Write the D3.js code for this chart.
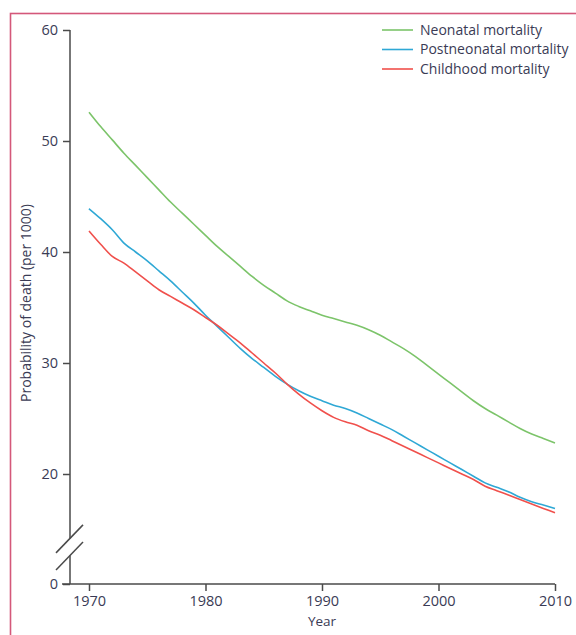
<!DOCTYPE html>
<html>
<head>
<meta charset="utf-8">
<script src="https://cdn.jsdelivr.net/npm/d3@7"></script>
<style>
  html, body { margin: 0; padding: 0; background: #fff; }
  svg { display: block; }
  .tick text { font-family: "Open Sans", sans-serif; font-size: 14.5px; fill: #3a3b55; }
  .lbl { font-family: "Open Sans", sans-serif; fill: #3a3b55; }
</style>
</head>
<body>
<svg id="chart" width="576" height="635"></svg>
<script>
// Probability of death (per 1000) by year, three age bands
const years = d3.range(1970, 2011);
const neonatal = [
  52.6, 51.3, 50.1, 48.9, 47.8, 46.7, 45.6, 44.5, 43.5, 42.5,
  41.5, 40.5, 39.6, 38.7, 37.8, 37.0, 36.3, 35.6, 35.1, 34.7,
  34.3, 34.0, 33.7, 33.4, 33.0, 32.5, 31.9, 31.3, 30.6, 29.8,
  29.0, 28.2, 27.4, 26.6, 25.9, 25.3, 24.7, 24.1, 23.6, 23.2,
  22.8
];
const postneonatal = [
  43.9, 43.0, 42.0, 40.8, 40.0, 39.2, 38.3, 37.4, 36.4, 35.4,
  34.3, 33.3, 32.3, 31.3, 30.4, 29.6, 28.8, 28.1, 27.5, 27.0,
  26.6, 26.2, 25.9, 25.5, 25.0, 24.5, 24.0, 23.4, 22.8, 22.2,
  21.6, 21.0, 20.4, 19.8, 19.2, 18.8, 18.4, 17.9, 17.5, 17.2,
  16.9
];
const childhood = [
  41.9, 40.7, 39.6, 39.0, 38.2, 37.4, 36.6, 36.0, 35.4, 34.8,
  34.1, 33.4, 32.6, 31.8, 30.9, 30.0, 29.1, 28.1, 27.2, 26.4,
  25.7, 25.1, 24.7, 24.4, 23.9, 23.5, 23.0, 22.5, 22.0, 21.5,
  21.0, 20.5, 20.0, 19.5, 18.9, 18.5, 18.1, 17.7, 17.3, 16.9,
  16.5
];
const seriesNames = ["Neonatal mortality", "Postneonatal mortality", "Childhood mortality"];
const seriesValues = [neonatal, postneonatal, childhood];
const seriesColors = ["#7cc46a", "#2fa8d5", "#f0504c"];
const xTicks = [1970, 1980, 1990, 2000, 2010];
const yTicks = [0, 20, 30, 40, 50, 60];

const svg = d3.select("#chart");

// outer frame
svg.append("rect")
  .attr("x", 10.5).attr("y", 13.5)
  .attr("width", 700).attr("height", 700)
  .attr("fill", "none").attr("stroke", "#d4587a").attr("stroke-width", 1.6);

// scales: the y axis runs linearly above the break and squeezes 0–13 below it
const x = d3.scaleLinear().domain([1970, 2010]).range([89, 555]);
const yMain = d3.scaleLinear().domain([20, 60]).range([474, 30]);
const yKnot = 13;
const y = d3.scaleLinear().domain([0, yKnot, 60]).range([584, yMain(yKnot), 30]);
const axisX = 70;
const axisColor = "#4a4a4a";

// y axis
const gy = svg.append("g").attr("transform", `translate(${axisX},0)`)
  .call(d3.axisLeft(y).tickValues(yTicks).tickSize(7).tickPadding(5).tickSizeOuter(0));
gy.select(".domain").remove();
gy.selectAll(".tick line").attr("stroke", axisColor).attr("stroke-width", 1.5);

const breakTop = 14.2, breakBottom = 11.5;
svg.append("line")
  .attr("x1", axisX).attr("x2", axisX)
  .attr("y1", y(60)).attr("y2", y(breakTop))
  .attr("stroke", axisColor).attr("stroke-width", 1.5);
svg.append("line")
  .attr("x1", axisX).attr("x2", axisX)
  .attr("y1", y(breakBottom)).attr("y2", y(0))
  .attr("stroke", axisColor).attr("stroke-width", 1.5);
[breakTop, breakBottom].forEach(v => {
  svg.append("line")
    .attr("x1", axisX - 14).attr("y1", y(v) + 14.5)
    .attr("x2", axisX + 13).attr("y2", y(v) - 13.5)
    .attr("stroke", axisColor).attr("stroke-width", 1.5);
});

// x axis
const gx = svg.append("g").attr("transform", `translate(0,${y(0)})`)
  .call(d3.axisBottom(x).tickValues(xTicks).tickFormat(d3.format("d"))
    .tickSize(7).tickPadding(5).tickSizeOuter(0));
gx.select(".domain").remove();
gx.selectAll(".tick line").attr("stroke", axisColor).attr("stroke-width", 1.5);
svg.append("line")
  .attr("x1", axisX - 8).attr("x2", x(2010))
  .attr("y1", y(0)).attr("y2", y(0))
  .attr("stroke", axisColor).attr("stroke-width", 1.5);

// series lines
const line = d3.line()
  .x((d, i) => x(years[i]))
  .y(d => y(d))
  .curve(d3.curveMonotoneX);
seriesValues.forEach((vals, k) => {
  svg.append("path")
    .datum(vals)
    .attr("d", line)
    .attr("fill", "none")
    .attr("stroke", seriesColors[k])
    .attr("stroke-width", 1.6)
    .attr("stroke-linejoin", "round");
});

// legend
const legend = svg.append("g").attr("transform", "translate(382,30)");
seriesNames.forEach((name, k) => {
  const g = legend.append("g").attr("transform", `translate(0,${k * 19.5})`);
  g.append("line").attr("x1", 0).attr("x2", 31).attr("y1", 0).attr("y2", 0)
    .attr("stroke", seriesColors[k]).attr("stroke-width", 1.6);
  g.append("text").attr("class", "lbl").attr("x", 38).attr("y", 0)
    .attr("dy", "0.35em").attr("font-size", 14).text(name);
});

// axis titles
svg.append("text").attr("class", "lbl")
  .attr("transform", "translate(31,303) rotate(-90)")
  .attr("text-anchor", "middle").attr("font-size", 14)
  .text("Probability of death (per 1000)");
svg.append("text").attr("class", "lbl")
  .attr("x", x(1990)).attr("y", 626)
  .attr("text-anchor", "middle").attr("font-size", 13.5)
  .text("Year");
</script>
</body>
</html>
